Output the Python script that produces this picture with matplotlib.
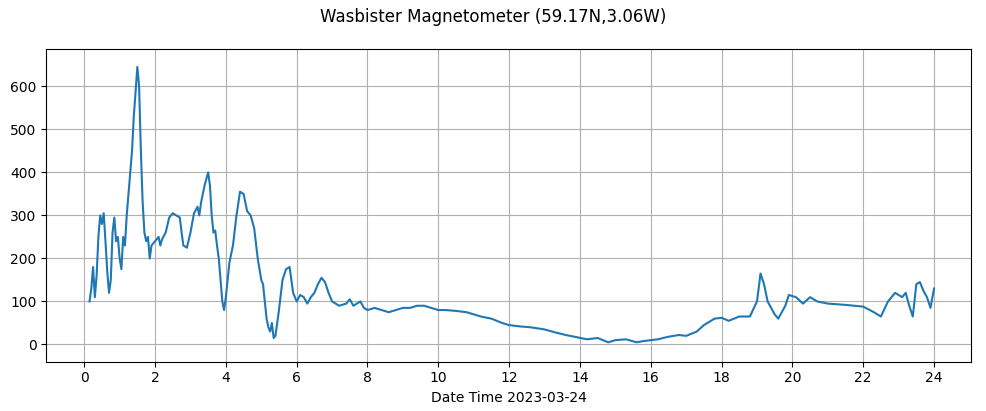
import matplotlib
matplotlib.use("Agg")
import matplotlib.pyplot as plt

hours = [0.15, 0.2, 0.25, 0.3, 0.35, 0.4, 0.45, 0.5, 0.55, 0.6, 0.65, 0.7, 0.75, 0.8, 0.85, 0.9, 0.95,
         1.0, 1.05, 1.1, 1.15, 1.2, 1.25, 1.3, 1.35, 1.4, 1.5, 1.55, 1.6, 1.65, 1.7, 1.75, 1.8, 1.85, 1.9,
         2.0, 2.1, 2.15, 2.2, 2.3, 2.4, 2.5, 2.6, 2.7, 2.75, 2.8, 2.9, 3.0, 3.1, 3.2, 3.25, 3.3, 3.4, 3.5,
         3.55, 3.6, 3.65, 3.7, 3.75, 3.8, 3.85, 3.9, 3.95, 4.0, 4.05, 4.1, 4.2, 4.3, 4.4, 4.5, 4.6, 4.7,
         4.8, 4.9, 5.0, 5.05, 5.1, 5.15, 5.2, 5.25, 5.3, 5.35, 5.4, 5.5, 5.6, 5.7, 5.8, 5.9, 6.0, 6.1, 6.2,
         6.3, 6.4, 6.5, 6.6, 6.7, 6.8, 6.9, 7.0, 7.2, 7.4, 7.5, 7.6, 7.8, 7.9, 8.0, 8.2, 8.4, 8.6, 8.8,
         9.0, 9.2, 9.4, 9.6, 9.8, 10.0, 10.2, 10.5, 10.8, 11.0, 11.2, 11.5, 11.8, 12.0, 12.3, 12.6, 13.0,
         13.3, 13.6, 13.9, 14.2, 14.5, 14.8, 15.0, 15.3, 15.6, 15.8, 16.0, 16.2, 16.5, 16.8, 17.0, 17.3,
         17.5, 17.8, 18.0, 18.2, 18.5, 18.8, 19.0, 19.1, 19.2, 19.3, 19.5, 19.6, 19.8, 19.9, 20.1, 20.3,
         20.5, 20.7, 21.0, 21.5, 22.0, 22.3, 22.5, 22.7, 22.9, 23.1, 23.2, 23.3, 23.4, 23.5, 23.6, 23.7,
         23.8, 23.9, 24.0]
values = [100, 130, 180, 110, 160, 250, 300, 280, 305, 240, 170, 120, 150, 260, 295, 240, 250,
          200, 175, 250, 230, 300, 350, 400, 450, 530, 645, 600, 450, 330, 260, 240, 250, 200, 230,
          240, 250, 230, 245, 260, 295, 305, 300, 295, 260, 230, 225, 260, 305, 320, 300, 330, 370, 400,
          370, 300, 260, 265, 230, 200, 150, 100, 80, 110, 150, 190, 230, 300, 355, 350, 310, 300,
          270, 200, 150, 140, 100, 60, 40, 30, 50, 15, 20, 80, 150, 175, 180, 120, 100, 115, 110,
          95, 110, 120, 140, 155, 145, 120, 100, 90, 95, 105, 90, 100, 85, 80, 85, 80, 75, 80,
          85, 85, 90, 90, 85, 80, 80, 78, 75, 70, 65, 60, 50, 45, 42, 40, 35,
          28, 22, 17, 12, 15, 5, 10, 12, 5, 8, 10, 12, 18, 22, 20, 30,
          45, 60, 62, 55, 65, 65, 100, 165, 140, 100, 70, 60, 90, 115, 110, 95,
          110, 100, 95, 92, 88, 75, 65, 100, 120, 110, 120, 90, 65, 140, 145, 125,
          110, 85, 130]

fig, ax = plt.subplots(figsize=(9.86, 4.11), dpi=100)
fig.subplots_adjust(left=0.047, right=0.985, top=0.88, bottom=0.12)
ax.plot(hours, values, color="#1f77b4")
ax.set_xticks(range(0, 25, 2))
ax.set_xlim(-1.07, 25.05)
ax.set_ylim(-40, 686)
ax.grid(True)
ax.set_xlabel("Date Time 2023-03-24")
fig.suptitle("Wasbister Magnetometer (59.17N,3.06W)")
fig.savefig("out.png")
